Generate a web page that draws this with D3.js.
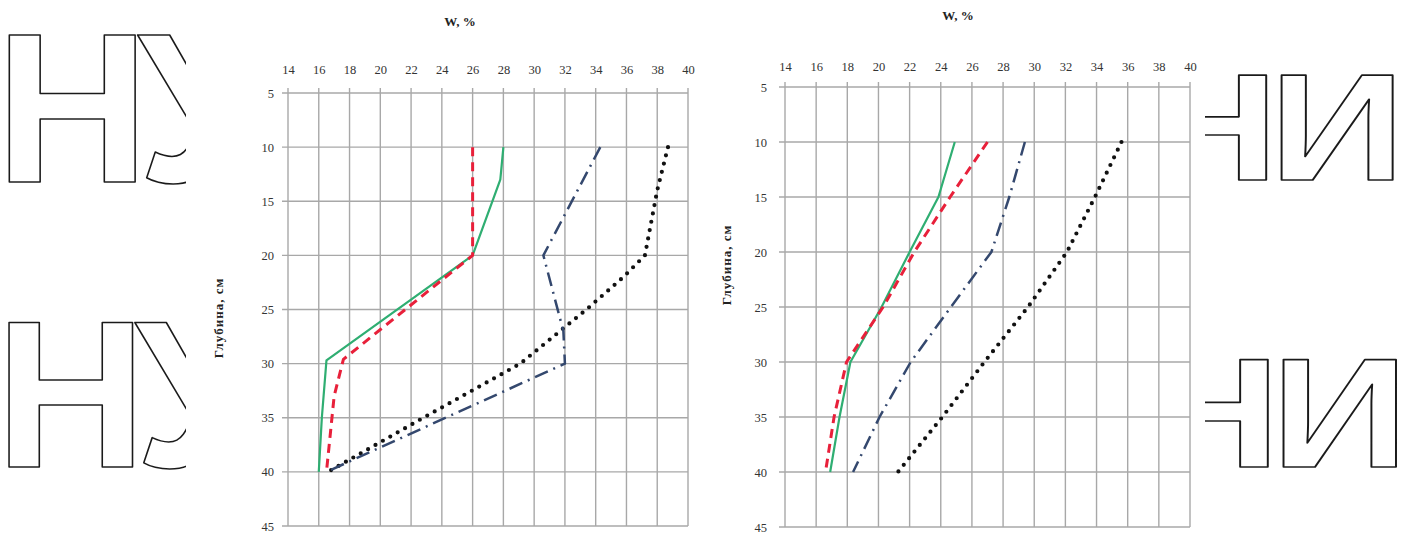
<!DOCTYPE html>
<html>
<head>
<meta charset="utf-8">
<script src="https://cdn.jsdelivr.net/npm/d3@7"></script>
<style>
  html, body { margin: 0; padding: 0; background: #fff; }
  svg { display: block; }
</style>
</head>
<body>
<svg id="chart" width="1406" height="535"></svg>
<script>
// ---- data ----
const wTicks = [14, 16, 18, 20, 22, 24, 26, 28, 30, 32, 34, 36, 38, 40];
const depthTicks = [5, 10, 15, 20, 25, 30, 35, 40, 45];
const xTitle = "W, %";
const yTitle = "Глубина, см";

// left chart series (W %, depth cm)
const leftGreenW     = [28.0, 27.8, 26.0, 16.5, 16.2, 16.0];
const leftGreenDepth = [10, 13, 20, 29.7, 35, 40];
const leftRedW       = [26.0, 26.0, 17.6, 17.0, 16.5];
const leftRedDepth   = [10, 20, 29.6, 33, 40];
const leftDashDotW     = [34.3, 30.6, 31.9, 32.0, 16.5];
const leftDashDotDepth = [10, 20, 27, 30, 40];
const leftDotW     = [38.7, 38.0, 37.6, 37.2, 35.8, 33.4, 29.1, 22.8, 16.6];
const leftDotDepth = [10, 14, 17, 20, 22, 25, 30, 35, 40];

// right chart series
const rightDepth    = [10, 15, 20, 25, 30, 35, 40];
const rightGreenW   = [24.9, 23.85, 22.0, 20.2, 18.2, 17.5, 16.9];
const rightRedW     = [27.0, 24.6, 22.3, 20.3, 17.95, 17.15, 16.6];
const rightDashDotW = [29.4, 28.4, 27.25, 24.65, 22.07, 20.07, 18.37];
const rightDotW     = [35.6, 33.9, 32.1, 29.6, 26.8, 24.1, 21.25];

// ---- styles ----
const styles = {
  green:   { stroke: "#2fae72", width: 2.2, dash: null, cap: "butt" },
  red:     { stroke: "#e8203a", width: 3, dash: "9,6", cap: "butt" },
  dashdot: { stroke: "#34486e", width: 2.5, dash: "14,6,2,6", cap: "butt" },
  dot:     { stroke: "#111111", width: 4.2, dash: "0,8.5", cap: "round" }
};

const svg = d3.select("#chart");
svg.append("rect").attr("width", 1406).attr("height", 535).attr("fill", "#fff");

// ---- decorative outline glyphs ----
const defs = svg.append("defs");
defs.append("clipPath").attr("id", "clipL").append("rect")
  .attr("x", 0).attr("y", 0).attr("width", 186).attr("height", 535);
defs.append("clipPath").attr("id", "clipR").append("rect")
  .attr("x", 1205).attr("y", 0).attr("width", 201).attr("height", 535);

function glyphs(text, x, y, size, sx, spacing, clip) {
  svg.append("g").attr("clip-path", `url(#${clip})`)
    .append("text")
    .attr("transform", `translate(${x},${y}) scale(${sx},1)`)
    .attr("font-family", "'Liberation Sans', Arial, sans-serif")
    .attr("font-weight", "bold")
    .attr("font-size", size)
    .attr("letter-spacing", spacing)
    .attr("fill", "#fff")
    .attr("stroke", "#1a1a1a")
    .attr("stroke-width", 1.6)
    .attr("stroke-linejoin", "round")
    .text(text);
}
glyphs("НУ", -5, 182, 214, 1, -12, "clipL");
glyphs("НУ", -5, 467, 210, 1, -12, "clipL");
glyphs("НИ", 1142, 180, 153, 1.24, -8, "clipR");
glyphs("НИ", 1142, 467, 155, 1.24, -8, "clipR");

// ---- chart builder ----
function drawChart(cfg) {
  const x = d3.scaleLinear().domain([14, 40]).range([cfg.x0, cfg.x1]);
  const y = d3.scaleLinear().domain([5, 45]).range([cfg.y0, cfg.y1]);
  const g = svg.append("g");
  const gridColor = "#a8a8a8";

  // grid
  g.append("g").selectAll("line").data(wTicks).join("line")
    .attr("x1", d => x(d)).attr("x2", d => x(d))
    .attr("y1", cfg.y0 - 5).attr("y2", cfg.y1)
    .attr("stroke", gridColor).attr("stroke-width", 1.4);
  g.append("g").selectAll("line").data(depthTicks).join("line")
    .attr("x1", cfg.x0 - 6).attr("x2", cfg.x1)
    .attr("y1", d => y(d)).attr("y2", d => y(d))
    .attr("stroke", gridColor).attr("stroke-width", 1.4);

  // axes (labels only)
  const top = g.append("g").attr("transform", `translate(0,${cfg.y0})`)
    .call(d3.axisTop(x).tickValues(wTicks).tickSize(0).tickPadding(cfg.topPad));
  const left = g.append("g").attr("transform", `translate(${cfg.x0},0)`)
    .call(d3.axisLeft(y).tickValues(depthTicks).tickSize(0).tickPadding(cfg.leftPad));
  [top, left].forEach(a => {
    a.select(".domain").remove();
    a.selectAll("text")
      .attr("font-family", "'Liberation Serif', 'Times New Roman', serif")
      .attr("font-size", 12.5)
      .attr("fill", "#333");
  });

  // titles
  g.append("text")
    .attr("x", cfg.titleX).attr("y", cfg.titleY)
    .attr("text-anchor", "middle")
    .attr("font-family", "'Liberation Serif', 'Times New Roman', serif")
    .attr("font-weight", "bold").attr("font-size", 13)
    .attr("fill", "#222")
    .text(xTitle);
  g.append("text")
    .attr("transform", `translate(${cfg.ytX},${cfg.ytY}) rotate(-90)`)
    .attr("text-anchor", "middle")
    .attr("font-family", "'Liberation Serif', 'Times New Roman', serif")
    .attr("font-weight", "bold").attr("font-size", 13)
    .attr("letter-spacing", 1)
    .attr("fill", "#222")
    .text(yTitle);

  // series
  const line = d3.line().x(d => x(d[0])).y(d => y(d[1]));
  cfg.series.forEach(s => {
    const st = styles[s.style];
    const pts = s.w.map((w, i) => [w, s.depth[i]]);
    g.append("path")
      .attr("d", line(pts))
      .attr("fill", "none")
      .attr("stroke", st.stroke)
      .attr("stroke-width", st.width)
      .attr("stroke-dasharray", st.dash)
      .attr("stroke-linecap", st.cap)
      .attr("stroke-linejoin", "round");
  });
}

drawChart({
  x0: 288, x1: 688, y0: 93, y1: 526,
  topPad: 19, leftPad: 14,
  titleX: 460, titleY: 26,
  ytX: 223, ytY: 318,
  series: [
    { w: leftDotW, depth: leftDotDepth, style: "dot" },
    { w: leftDashDotW, depth: leftDashDotDepth, style: "dashdot" },
    { w: leftGreenW, depth: leftGreenDepth, style: "green" },
    { w: leftRedW, depth: leftRedDepth, style: "red" }
  ]
});

drawChart({
  x0: 785, x1: 1190, y0: 87, y1: 527,
  topPad: 16, leftPad: 18,
  titleX: 958, titleY: 20,
  ytX: 731, ytY: 265,
  series: [
    { w: rightDotW, depth: rightDepth, style: "dot" },
    { w: rightDashDotW, depth: rightDepth, style: "dashdot" },
    { w: rightGreenW, depth: rightDepth, style: "green" },
    { w: rightRedW, depth: rightDepth, style: "red" }
  ]
});
</script>
</body>
</html>
